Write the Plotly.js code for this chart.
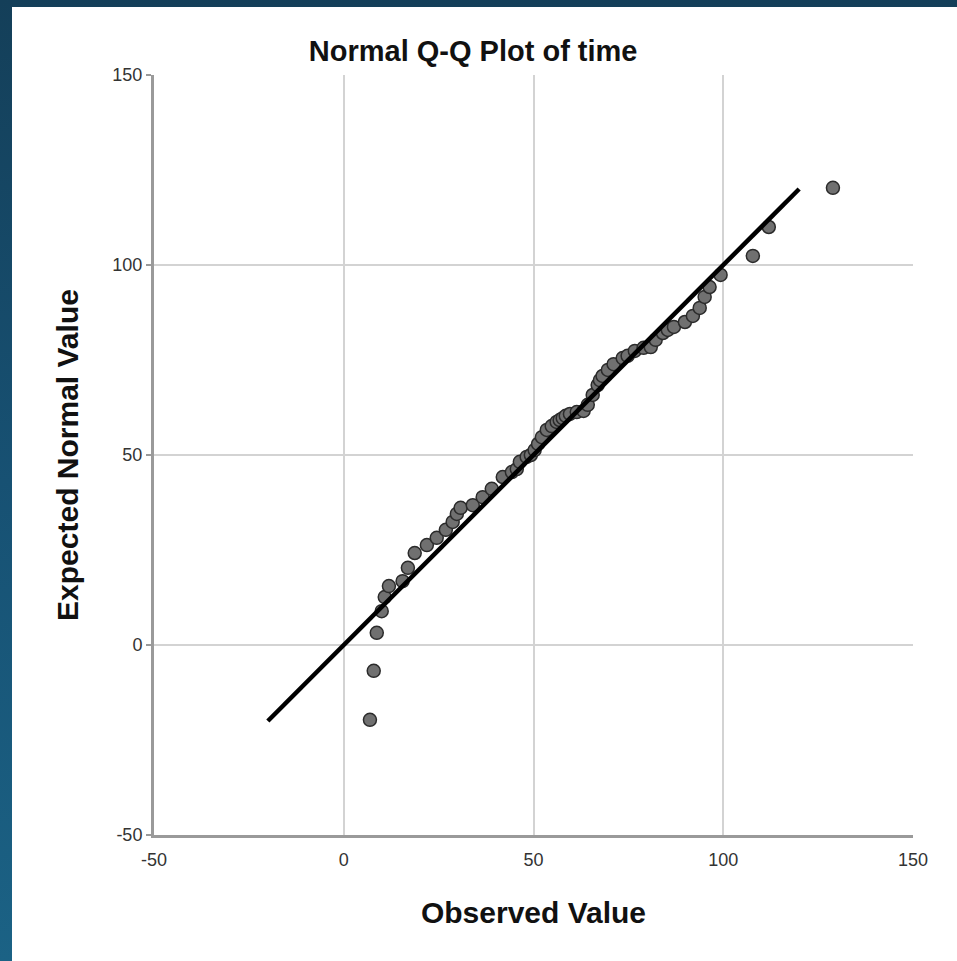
<!DOCTYPE html>
<html>
<head>
<meta charset="utf-8">
<script src="https://cdn.plot.ly/plotly-3.0.1.min.js"></script>
<style>
  html, body { margin: 0; padding: 0; width: 957px; height: 961px; overflow: hidden; }
  body { background: linear-gradient(to bottom, #143f59 0%, #175173 50%, #1b6285 100%); }
  #chart { position: absolute; left: 12px; top: 7px; width: 945px; height: 954px; background: #fff; }
</style>
</head>
<body>
<div id="chart"></div>
<script>
const observed = [6.9, 7.9, 8.7, 10.0, 10.8, 11.9, 15.5, 16.9, 18.7, 21.9, 24.5, 26.9, 28.7, 29.8, 30.8,
  34.0, 36.6, 39.0, 41.9, 44.3, 45.6, 46.4, 48.2, 49.3, 50.3, 51.2, 52.2, 53.5, 54.8, 56.1,
  56.9, 57.7, 58.5, 59.6, 61.4, 63.2, 64.3, 65.6, 66.9, 67.5, 68.2, 69.6, 71.1, 73.5, 74.8,
  76.7, 79.0, 80.9, 82.2, 84.1, 85.4, 87.0, 89.9, 92.0, 93.8, 95.1, 96.4, 99.3, 107.8, 112.0, 128.9];
const expected = [-19.7, -6.8, 3.2, 8.9, 12.6, 15.5, 16.8, 20.3, 24.2, 26.3, 28.2, 30.3, 32.4, 34.5, 36.1,
  36.8, 38.9, 41.1, 44.2, 45.5, 46.3, 48.2, 49.5, 50.0, 51.3, 52.9, 54.7, 56.6, 57.6, 58.7,
  59.2, 59.7, 60.3, 60.8, 61.3, 61.6, 63.2, 65.8, 68.4, 69.7, 70.8, 72.4, 73.9, 75.5, 76.1,
  77.4, 78.2, 78.4, 80.3, 82.1, 82.9, 83.7, 85.0, 86.6, 88.7, 91.6, 94.2, 97.4, 102.4, 110.0, 120.3];
// Reference line endpoints
const lineX = [-20, 120];
const lineY = [-20, 120];
// Axis ticks
const tickVals = [-50, 0, 50, 100, 150];
const tickText = ['-50', '0', '50', '100', '150'];

const FONT = '"Liberation Sans", Arial, sans-serif';

const traces = [
  {
    type: 'scatter', mode: 'markers', x: observed, y: expected,
    marker: { size: 13, color: '#707070', line: { color: '#2b2b2b', width: 1.5 } },
    hoverinfo: 'x+y'
  },
  {
    type: 'scatter', mode: 'lines', x: lineX, y: lineY,
    line: { color: '#000000', width: 4.5 },
    hoverinfo: 'skip'
  }
];

const layout = {
  width: 945, height: 954,
  margin: { l: 142, r: 44, t: 68, b: 126 },
  paper_bgcolor: '#ffffff', plot_bgcolor: '#ffffff',
  showlegend: false,
  font: { family: FONT, color: '#333333' },
  title: {
    text: 'Normal Q-Q Plot of time',
    font: { family: FONT, size: 29, color: '#111111', weight: 'bold' },
    xref: 'container', x: 0.488, xanchor: 'center',
    yref: 'container', y: 0.954, yanchor: 'middle'
  },
  xaxis: {
    range: [-50, 150], tickmode: 'array', tickvals: tickVals, ticktext: tickText,
    showgrid: true, gridcolor: '#d3d3d3', gridwidth: 2,
    zeroline: false, showline: true, linecolor: '#9a9a9a', linewidth: 3,
    ticks: '', ticklabelstandoff: 6, tickfont: { family: FONT, size: 18, color: '#333333' },
    title: { text: 'Observed Value', font: { family: FONT, size: 30, color: '#111111', weight: 'bold' }, standoff: 34 },
    fixedrange: true
  },
  yaxis: {
    range: [-50, 150], tickmode: 'array', tickvals: tickVals, ticktext: tickText,
    showgrid: true, gridcolor: '#d3d3d3', gridwidth: 2,
    zeroline: false, showline: true, linecolor: '#9a9a9a', linewidth: 3,
    ticks: 'outside', ticklen: 5, tickcolor: '#9a9a9a', tickwidth: 1.5,
    tickfont: { family: FONT, size: 18, color: '#333333' },
    title: { text: 'Expected Normal Value', font: { family: FONT, size: 30, color: '#111111', weight: 'bold' }, standoff: 25 },
    fixedrange: true
  }
};

Plotly.newPlot('chart', traces, layout, { displayModeBar: false, staticPlot: true });
</script>
</body>
</html>
